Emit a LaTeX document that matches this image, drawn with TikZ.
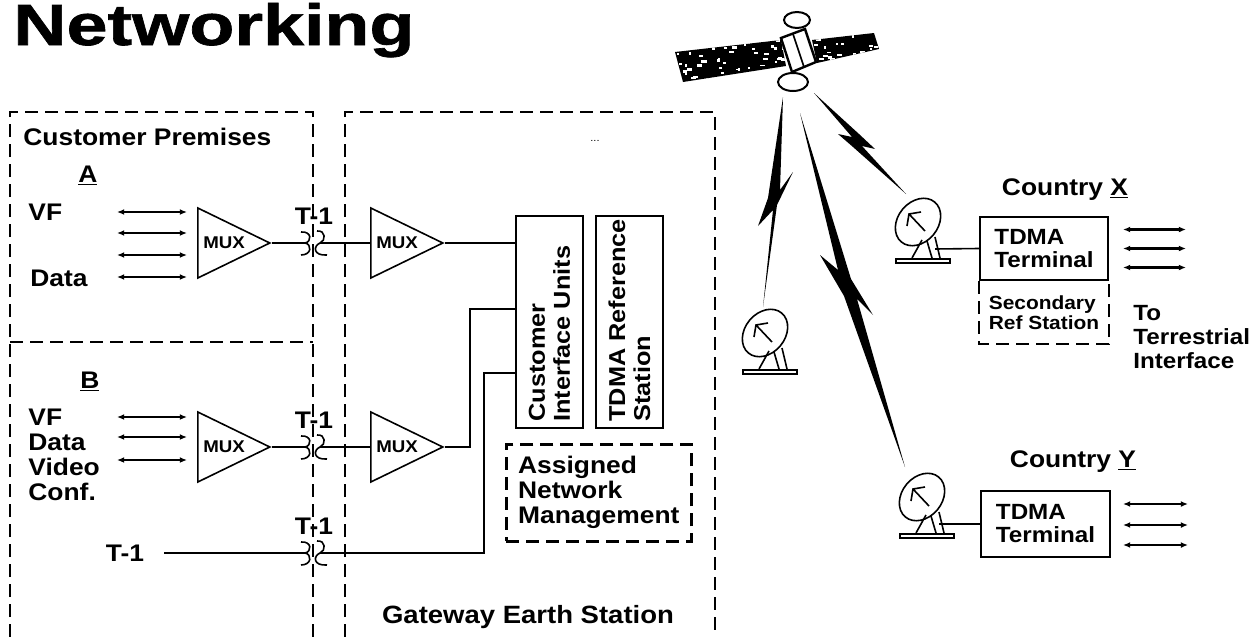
\documentclass[tikz,border=0pt]{standalone}
\usepackage{fontspec}
\setmainfont{Liberation Sans}[FakeStretch=1.1]
\newfontfamily\bannerfont{Liberation Sans}[FakeStretch=1.27, FakeBold=1.2]
\usetikzlibrary{arrows.meta}
\usetikzlibrary{calc}
\usetikzlibrary{shapes.geometric}

\tikzset{
  zone/.style={line width=1.3pt, dash pattern=on 6.5pt off 3.5pt},
  wire/.style={line width=0.8pt},
  unitbox/.style={draw, line width=1pt, inner sep=0pt},
  mux/.style={draw, line width=0.8pt, isosceles triangle, isosceles triangle stretches,
    minimum width=35pt, minimum height=36pt, inner sep=0pt,
    font=\fontsize{8.5}{9}\selectfont\bfseries},
  twoway/.style={line width=1.1pt, {Latex[length=3.6pt,width=3pt]}-{Latex[length=3.6pt,width=3pt]}},
  lbl/.style={inner sep=0pt, font=\fontsize{12}{12.5}\selectfont\bfseries},
  smalllbl/.style={inner sep=0pt, font=\fontsize{9.5}{10}\selectfont\bfseries},
}

\begin{document}
\begin{tikzpicture}[x=0.5pt,y=-0.5pt]
        \newcommand{\tjack}[2]{%
          \draw[wire] (301,#2-11) .. controls (312,#2-12) and (312,#2-1) .. (305,#2)
                      .. controls (312,#2+1) and (312,#2+12) .. (301,#2+12);
          \draw[wire] (317,#2-12) .. controls (326,#2-13) and (326,#2-2) .. (320,#2)
                      .. controls (313,#2+3) and (313,#2+13) .. (327,#2+12);
          \coordinate (jack#1L) at (305,#2);
          \coordinate (jack#1R) at (320,#2);
          \node[lbl] (jack#1lbl) at (314,#2-27) {T-1};
        }
        \newcommand{\earthdish}[3]{%
          \begin{scope}[shift={(#2,#3)}, line width=0.8pt]
            \draw[rotate=50] (0,0) ellipse [x radius=26, y radius=20];
            \draw (-9,-8) -- (7,9) (-11,4) -- (-9,-8) -- (3,-10);
            \draw (4,18) -- (-6,36) (9,19) -- (14,36) (17,15) -- (22,36);
            \draw (-22,37) rectangle (32,41);
          \end{scope}
          \coordinate (#1) at (#2+17,#3+27);
        }
        \useasboundingbox (0,0) rectangle (1253,637);
        \node[anchor=base west, inner sep=0pt, font=\bannerfont\bfseries\fontsize{29}{30}\selectfont] (title) at (13,45) {Networking};
        % premises and gateway outlines
        \draw[zone] (10,637) -- (10,112) -- (313,112) -- (313,637);
        \draw[zone] (10,342) -- (313,342);
        \draw[zone] (345,637) -- (345,112) -- (715,112) -- (715,637);
        % customer A
        \node[lbl, anchor=base west] (premises) at (23,145) {Customer Premises};
        \node[lbl, anchor=base west] (siteA) at (78,182) {\underline{A}};
        \node[lbl, anchor=base west] (vfA) at (28,220) {VF};
        \node[lbl, anchor=base west] (dataA) at (30,286) {Data};
        \foreach \y in {212,233,255,277} \draw[twoway] (117,\y) -- (187,\y);
        \node[mux, anchor=lower side] (muxA) at (197,243) {MUX};
        \tjack{A}{243}
        \draw[wire] (muxA.apex) -- (jackAL);
        % customer B
        \node[lbl, anchor=base west] (siteB) at (80,388) {\underline{B}};
        \node[lbl, anchor=north west, align=left] (servB) at (28,409) {VF\\Data\\Video\\Conf.};
        \foreach \y in {417,437,460} \draw[twoway] (117,\y) -- (187,\y);
        \node[mux, anchor=lower side] (muxB) at (197,447) {MUX};
        \tjack{B}{447}
        \draw[wire] (muxB.apex) -- (jackBL);
        \node[lbl] (trunk) at (125,553) {T-1};
        \tjack{C}{553}
        \draw[wire] ([xshift=10pt]trunk.east) -- (jackCL);
        % gateway earth station
        \node[font=\tiny] (gwdots) at (595,141) {...};
        \node[mux, anchor=lower side] (gmuxA) at (370,243) {MUX};
        \node[mux, anchor=lower side] (gmuxB) at (370,447) {MUX};
        \node[unitbox, anchor=north west, minimum width=33.5pt, minimum height=106pt] (ciu) at (515,215) {};
        \node[unitbox, anchor=north west, minimum width=33.5pt, minimum height=106pt] (refstn) at (595,215) {};
        \node[lbl, font=\fontsize{11.5}{12.5}\selectfont\bfseries, rotate=90, align=left, anchor=west] (ciutext) at ($(ciu.south)+(0,-7)$) {Customer\\Interface Units};
        \node[lbl, font=\fontsize{11.5}{12.5}\selectfont\bfseries, rotate=90, align=left, anchor=west] (refstntext) at ($(refstn.south)+(0,-7)$) {TDMA Reference\\Station};
        \coordinate (ciuin1) at ($(ciu.north west)+(0,28)$);
        \coordinate (ciuin2) at ($(ciu.north west)+(0,94)$);
        \coordinate (ciuin3) at ($(ciu.north west)+(0,158)$);
        \draw[wire] (jackAR) -- (gmuxA.lower side);
        \draw[wire] (jackBR) -- (gmuxB.lower side);
        \draw[wire] (gmuxA.apex) -- (ciuin1);
        \draw[wire] (gmuxB.apex) -- ++(25,0) |- (ciuin2);
        \draw[wire] (jackCR) -- ++(164,0) |- (ciuin3);
        \node[zone, draw, anchor=north west, minimum width=92.5pt, minimum height=48.5pt, align=left, font=\fontsize{12}{12.5}\selectfont\bfseries] (netmgmt) at (505,443) {Assigned\\Network\\Management};
        \node[lbl, font=\fontsize{12.5}{13}\selectfont\bfseries] (gwlabel) at (528,617) {Gateway Earth Station};
        % satellite
        \fill (675,52) -- (781,40) -- (786,66) -- (683,82) -- cycle;
        \fill (812,40) -- (874,33) -- (879,49) -- (817,63) -- cycle;
        \begin{scope}
          \clip (675,52) -- (781,40) -- (786,66) -- (683,82) -- cycle
                (812,40) -- (874,33) -- (879,49) -- (817,63) -- cycle;
          \pgfmathsetseed{11}
          \foreach \k in {1,...,130} \fill[white] (676+rnd*205,32+rnd*50) rectangle ++(1.5+rnd*4,1.5+rnd*1.5);
        \end{scope}
        \filldraw[fill=white, line width=1.2pt] (781,38) -- (805,29) -- (816,62) -- (792,72) -- cycle;
        \draw[line width=0.8pt] (793,34) -- (804,67);
        \draw[line width=1pt, fill=white] (797,20) ellipse [x radius=13, y radius=8];
        \draw[line width=1pt, fill=white] (793,82) ellipse [x radius=15, y radius=9];
        % radio links
        \fill (783,97) -- (768,198) -- (758,226) -- (773,210) -- (763,307) -- (777,205) -- (793,172) -- (780,190) -- cycle;
        \fill (800,113) -- (851,279) -- (873,315) -- (857,299) -- (905,467) -- (844,296) -- (820,255) -- (838,270) -- cycle;
        \fill (814,93) -- (859,134) -- (875,149) -- (862,146) -- (906,194) -- (853,147) -- (838,134) -- (852,137) -- cycle;
        % earth stations
        \earthdish{dishW}{765}{333}
        \earthdish{dishX}{918}{222}
        \earthdish{dishY}{922}{497}
        % country X
        \node[lbl, anchor=base] (ctryX) at (1065,195) {Country \underline{X}};
        \node[unitbox, minimum width=64pt, minimum height=31.5pt, align=left, font=\fontsize{11}{11.5}\selectfont\bfseries] (termX) at (1044,248.5) {TDMA\\Terminal};
        \draw[zone] (termX.south west) -- ++(0,63) -| (termX.south east);
        \node[smalllbl, align=left] (secref) at (1044,313) {Secondary\\Ref Station};
        \draw[wire] (dishX) -- (termX.west);
        \foreach \dy in {-19,0,19} \draw[twoway] ([shift={(14,\dy)}]termX.east) -- ++(63,0);
        \node[lbl, font=\fontsize{11}{12}\selectfont\bfseries, anchor=north west, align=left] (terr) at (1133,305) {To\\Terrestrial\\Interface};
        % country Y
        \node[lbl, anchor=base] (ctryY) at (1073,467) {Country \underline{Y}};
        \node[unitbox, minimum width=64.5pt, minimum height=33pt, align=left, font=\fontsize{11}{11.5}\selectfont\bfseries] (termY) at (1045.5,524) {TDMA\\Terminal};
        \draw[wire] (dishY) -- (termY.west);
        \foreach \dy in {-20,1,21} \draw[twoway] ([shift={(12,\dy)}]termY.east) -- ++(65,0);
\end{tikzpicture}
\end{document}
